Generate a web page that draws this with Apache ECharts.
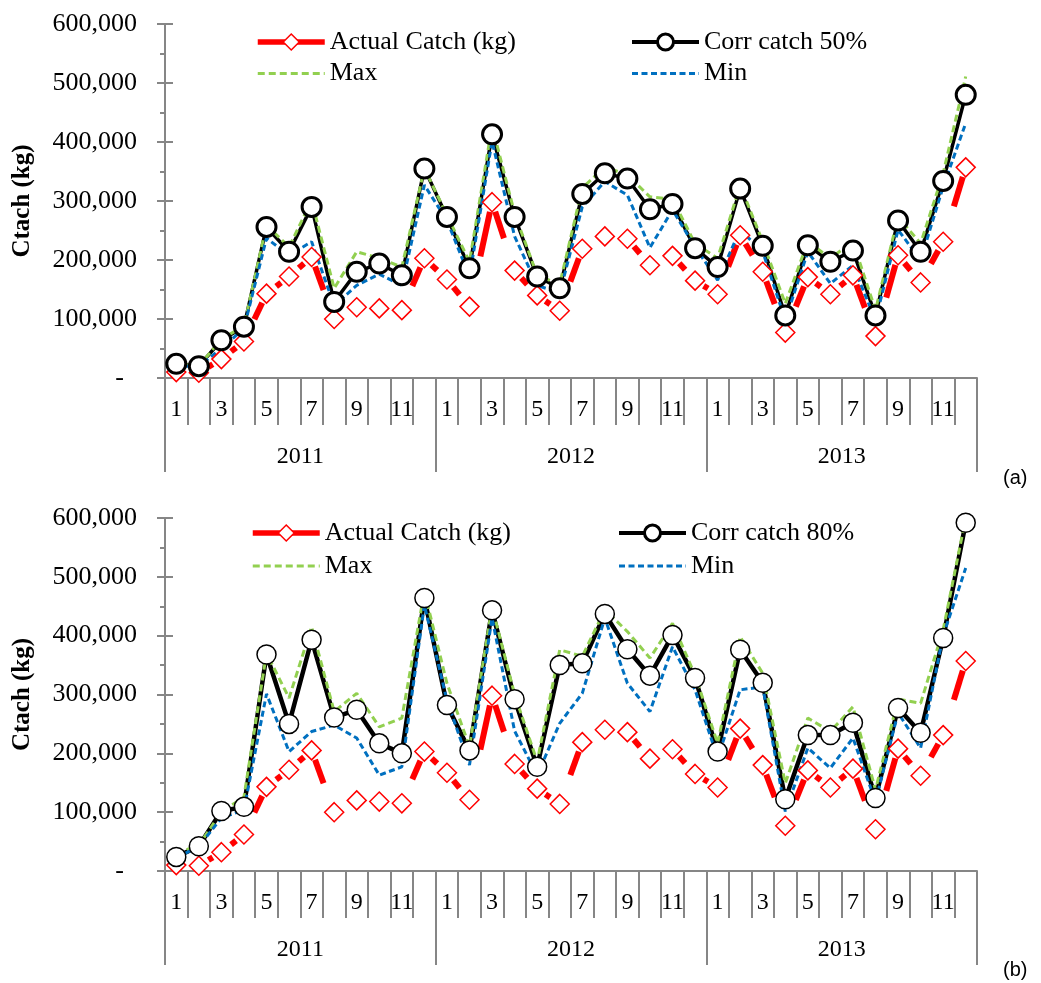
<!DOCTYPE html>
<html>
<head>
<meta charset="utf-8">
<script src="https://cdn.jsdelivr.net/npm/echarts@6/dist/echarts.min.js"></script>
<style>
  html, body { margin: 0; padding: 0; background: #fff; }
  #chart { width: 1041px; height: 983px; }
</style>
</head>
<body>
<div id="chart"></div>
<script>
// categories
const years = ['2011', '2012', '2013'];
const months = ['1', '2', '3', '4', '5', '6', '7', '8', '9', '10', '11', '12'];
const yTicks = [0, 100000, 200000, 300000, 400000, 500000, 600000];

// actual catch is the same in both panels
const actualCatch = [10000, 9000, 32000, 62000, 143000, 172000, 205000, 100000, 120000, 118000, 115000, 203000,
  167000, 121000, 298000, 182000, 140000, 114000, 219000, 240000, 236000, 191000, 207000, 165000,
  142000, 242000, 180000, 77000, 171000, 142000, 174000, 71000, 208000, 162000, 231000, 357000];

// panel (a)
const corr50 = [24000, 20000, 64000, 87000, 256000, 214000, 290000, 129000, 180000, 194000, 174000, 355000,
  273000, 186000, 413000, 273000, 172000, 152000, 312000, 347000, 338000, 286000, 295000, 220000,
  188000, 321000, 224000, 106000, 225000, 197000, 216000, 106000, 267000, 214000, 334000, 480000];
const max50 = [25000, 20000, 66000, 88000, 259000, 222000, 301000, 152000, 214000, 203000, 188000, 355000,
  276000, 197000, 427000, 279000, 174000, 159000, 322000, 358000, 344000, 307000, 303000, 228000,
  203000, 327000, 231000, 126000, 231000, 203000, 231000, 115000, 273000, 228000, 347000, 511000];
const min50 = [20000, 20000, 50000, 84000, 237000, 208000, 231000, 123000, 157000, 176000, 157000, 327000,
  267000, 172000, 401000, 240000, 157000, 144000, 290000, 333000, 310000, 221000, 285000, 222000,
  166000, 251000, 214000, 98000, 214000, 160000, 191000, 98000, 251000, 200000, 324000, 432000];

// panel (b)
const corr80 = [24000, 42000, 102000, 109000, 368000, 250000, 393000, 261000, 274000, 217000, 200000, 464000,
  282000, 205000, 443000, 292000, 177000, 350000, 353000, 437000, 377000, 332000, 401000, 328000,
  203000, 376000, 320000, 122000, 231000, 231000, 252000, 124000, 277000, 235000, 396000, 592000];
const max80 = [30000, 44000, 100000, 126000, 370000, 294000, 415000, 271000, 302000, 245000, 260000, 475000,
  319000, 211000, 449000, 300000, 186000, 376000, 365000, 444000, 407000, 362000, 421000, 333000,
  217000, 398000, 336000, 149000, 260000, 237000, 279000, 138000, 292000, 285000, 410000, 600000];
const min80 = [22000, 42000, 90000, 104000, 301000, 203000, 237000, 248000, 226000, 163000, 177000, 452000,
  290000, 180000, 430000, 238000, 163000, 251000, 302000, 430000, 319000, 271000, 381000, 308000,
  192000, 308000, 313000, 101000, 209000, 175000, 226000, 118000, 269000, 209000, 400000, 515000];

const categories = [];
years.forEach(() => months.forEach(m => categories.push(m)));

const SERIF = '"Liberation Serif", "Times New Roman", serif';
const GREY = '#868686';
const RED = '#ff0000', GREEN = '#92d050', BLUE = '#0070c0';

const panels = [
  { top: 24, height: 354, corr: corr50, max: max50, min: min50, corrName: 'Corr catch 50%',
    corrBorder: 3, corrLine: 3.5, legendTop: 29, legendGap: 5.5, legLeft: [255, 630], tag: '(a)', tagTop: 468 },
  { top: 518, height: 353, corr: corr80, max: max80, min: min80, corrName: 'Corr catch 80%',
    corrBorder: 1.5, corrLine: 4.5, legendTop: 520, legendGap: 7, legLeft: [250, 617], tag: '(b)', tagTop: 960 }
];

// the thick red line only shows in pieces next to the upper point of each step
function redPieces(values, g) {
  return {
    type: 'custom',
    xAxisIndex: g * 2,
    yAxisIndex: g * 2,
    clip: false,
    silent: true,
    data: values.map((v, i) => [i, v]),
    renderItem(params, api) {
      const i = params.dataIndex;
      if (i === 0) return null;
      const a = api.coord([i - 1, values[i - 1]]);
      const b = api.coord([i, values[i]]);
      const hi = a[1] < b[1] ? a : b;
      const lo = a[1] < b[1] ? b : a;
      const dx = lo[0] - hi[0], dy = lo[1] - hi[1];
      const len = Math.hypot(dx, dy);
      const vis = 0.5 * len - 8;
      if (vis < 5) return null;
      const ux = dx / len, uy = dy / len, s = 10;
      return {
        type: 'line',
        shape: { x1: hi[0] + ux * s, y1: hi[1] + uy * s, x2: hi[0] + ux * (s + vis), y2: hi[1] + uy * (s + vis) },
        style: { stroke: RED, lineWidth: 6 }
      };
    }
  };
}

const grid = [], xAxis = [], yAxis = [], series = [], legend = [], graphic = [];

panels.forEach((p, g) => {
  grid.push({ left: 165, width: 812, top: p.top, height: p.height, outerBoundsMode: 'none', containLabel: false });

  xAxis.push({
    gridIndex: g, type: 'category', data: categories, position: 'bottom', boundaryGap: true,
    axisLine: { lineStyle: { color: GREY, width: 2 } },
    axisTick: { show: true, interval: 0, length: 47, lineStyle: { color: GREY, width: 2 } },
    axisLabel: { interval: 1, margin: 20, color: '#000', fontFamily: SERIF, fontSize: 24 }
  });
  xAxis.push({
    gridIndex: g, type: 'category', data: years, position: 'bottom', offset: 0, boundaryGap: true,
    axisLine: { show: false },
    axisTick: { show: true, interval: 0, length: 94, lineStyle: { color: GREY, width: 2 } },
    axisLabel: { margin: 67, color: '#000', fontFamily: SERIF, fontSize: 24 }
  });

  yAxis.push({
    gridIndex: g, type: 'value', position: 'left',
    min: yTicks[0], max: yTicks[yTicks.length - 1], interval: yTicks[1] - yTicks[0],
    axisLine: { show: true, lineStyle: { color: GREY, width: 2 } },
    axisTick: { show: true, length: 8, lineStyle: { color: GREY, width: 2 } },
    minorTick: { show: true, splitNumber: 2, length: 5, lineStyle: { color: GREY, width: 2 } },
    splitLine: { show: false },
    axisLabel: {
      margin: 28, color: '#000', fontFamily: SERIF, fontSize: 26,
      formatter: v => v === 0 ? '-  ' : v.toLocaleString('en-US')
    },
    name: 'Ctach (kg)', nameLocation: 'middle', nameGap: 130, nameRotate: 90,
    nameTextStyle: { color: '#000', fontFamily: SERIF, fontSize: 25, fontWeight: 'bold' }
  });
  // inner half of the crossing tick marks
  yAxis.push({
    gridIndex: g, type: 'value', position: 'left', offset: 0,
    min: yTicks[0], max: yTicks[yTicks.length - 1], interval: yTicks[1] - yTicks[0],
    axisLine: { show: false },
    axisTick: { show: true, inside: true, length: 8, lineStyle: { color: GREY, width: 2 } },
    axisLabel: { show: false }, splitLine: { show: false }
  });

  const xi = g * 2, yi = g * 2;
  series.push(redPieces(actualCatch, g));
  series.push({
    name: 'Actual Catch (kg)', type: 'line', xAxisIndex: xi, yAxisIndex: yi, data: actualCatch,
    symbol: 'diamond', symbolSize: 19, showAllSymbol: true,
    itemStyle: { color: '#fff', borderColor: RED, borderWidth: 1.5 },
    lineStyle: { width: 0, color: RED }
  });
  series.push({
    name: p.corrName, type: 'line', xAxisIndex: xi, yAxisIndex: yi, data: p.corr,
    symbol: 'circle', symbolSize: 19, showAllSymbol: true,
    itemStyle: { color: '#fff', borderColor: '#000', borderWidth: p.corrBorder },
    lineStyle: { width: p.corrLine, color: '#000' }
  });
  series.push({
    name: 'Max', type: 'line', xAxisIndex: xi, yAxisIndex: yi, data: p.max, symbol: 'none',
    lineStyle: { width: 3, color: GREEN, type: [7, 4] }
  });
  series.push({
    name: 'Min', type: 'line', xAxisIndex: xi, yAxisIndex: yi, data: p.min, symbol: 'none',
    lineStyle: { width: 3, color: BLUE, type: [6, 3.5] }
  });

  const legendBase = {
    orient: 'vertical', top: p.legendTop, padding: 0, itemWidth: 67, itemHeight: 20, itemGap: p.legendGap,
    selectedMode: false,
    textStyle: { color: '#000', fontFamily: SERIF, fontSize: 26, lineHeight: 26 }
  };
  legend.push(Object.assign({}, legendBase, {
    left: p.legLeft[0],
    data: [
      { name: 'Actual Catch (kg)', lineStyle: { width: 5.5, color: RED },
        itemStyle: { color: '#fff', borderColor: RED, borderWidth: 1.5 } },
      { name: 'Max', lineStyle: { width: 3, color: GREEN }, itemStyle: { opacity: 0 } }
    ]
  }));
  legend.push(Object.assign({}, legendBase, {
    left: p.legLeft[1],
    data: [
      { name: p.corrName, lineStyle: { width: 4, color: '#000' },
        itemStyle: { color: '#fff', borderColor: '#000', borderWidth: 3 } },
      { name: 'Min', lineStyle: { width: 3, color: BLUE }, itemStyle: { opacity: 0 } }
    ]
  }));

  graphic.push({
    type: 'text', left: 1003, top: p.tagTop,
    style: { text: p.tag, font: '20px "Liberation Sans", Arial, sans-serif', fill: '#000' }
  });
});

const chart = echarts.init(document.getElementById('chart'), null, { renderer: 'canvas' });
chart.setOption({
  animation: false,
  backgroundColor: '#fff',
  grid, xAxis, yAxis, series, legend, graphic
});
</script>
</body>
</html>
